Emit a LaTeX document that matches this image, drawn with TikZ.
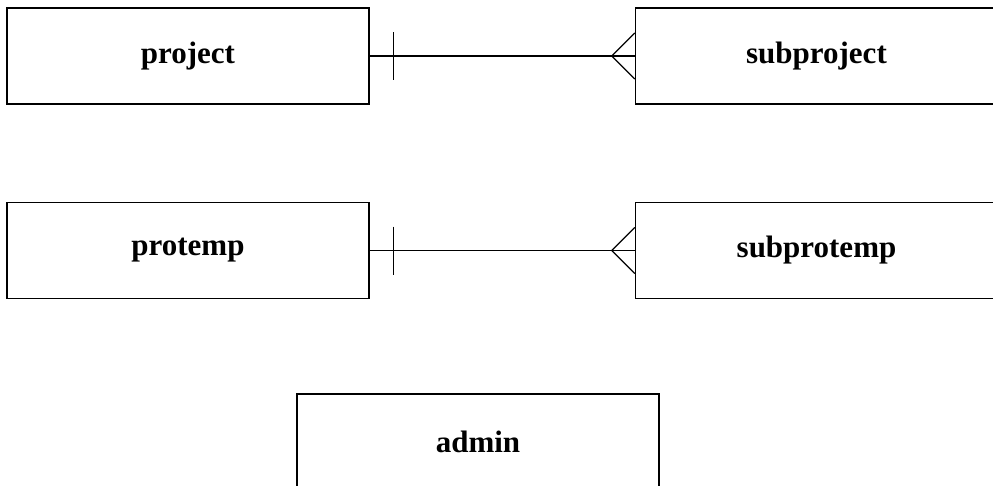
\documentclass[tikz,border=0pt]{standalone}
\usepackage{fontspec}
\setmainfont{Liberation Serif}
\usetikzlibrary{positioning}

\tikzset{
    entity/.style={draw, line width=1.5pt, minimum width=362pt, minimum height=96pt,
        inner sep=0pt, font=\fontsize{31}{37}\selectfont\bfseries},
    rel/.style={line width=1.2pt}
}

\begin{document}
\begin{tikzpicture}[x=1pt, y=-1pt]
        \useasboundingbox (0,0) rectangle (993,485);
        % Define nodes
        \node[entity] at (188,56) (project) {project};
        \node[entity, right=265pt of project] (subproject) {subproject};
        \node[entity, below=97pt of project] (protemp) {protemp};
        \node[entity, right=265pt of protemp] (subprotemp) {subprotemp};
        \node[entity] at (478,442) (admin) {admin};
        % Connect nodes
        \foreach \one/\many in {project/subproject, protemp/subprotemp} {
            \draw[rel] (\one.east) -- (\many.west);
            \draw[rel] ([xshift=24pt,yshift=24pt]\one.east) -- ([xshift=24pt,yshift=-24pt]\one.east);
            \draw[rel] ([yshift=23pt]\many.west) -- ([xshift=-23pt]\many.west) -- ([yshift=-23pt]\many.west);
        }
    \end{tikzpicture}
\end{document}
